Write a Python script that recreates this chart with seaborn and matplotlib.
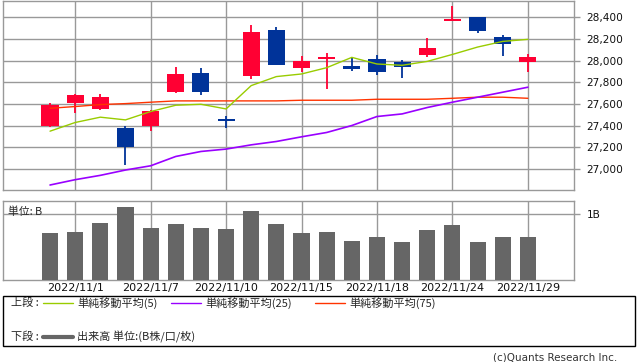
import matplotlib
matplotlib.use('Agg')
import matplotlib.pyplot as plt
import seaborn as sns
import numpy as np
import pandas as pd
from matplotlib.lines import Line2D
from matplotlib.patches import Rectangle

sns.set_style('white')
plt.rcParams['font.family'] = ['DejaVu Sans', 'Noto Sans CJK JP']

# daily candles
dates = ['2022/10/31', '2022/11/1', '2022/11/2', '2022/11/4', '2022/11/7',
         '2022/11/8', '2022/11/9', '2022/11/10', '2022/11/11', '2022/11/14',
         '2022/11/15', '2022/11/16', '2022/11/17', '2022/11/18', '2022/11/21',
         '2022/11/22', '2022/11/24', '2022/11/25', '2022/11/28', '2022/11/29']
open_ = [27401, 27613, 27554, 27380, 27401, 27711, 27885, 27462, 27858, 28280,
         27931, 28014, 27950, 28014, 27986, 28051, 28366, 28400, 28216, 27989]
close = [27591, 27683, 27665, 27199, 27536, 27876, 27711, 27447, 28262, 27959,
         27996, 28032, 27922, 27897, 27943, 28115, 28382, 28274, 28155, 28032]
high = [27610, 27690, 27692, 27398, 27545, 27940, 27931, 27493, 28326, 28308,
        28042, 28069, 28026, 28051, 28002, 28207, 28501, 28400, 28237, 28063]
low = [27389, 27521, 27545, 27033, 27355, 27701, 27683, 27374, 27830, 27959,
       27897, 27738, 27904, 27870, 27842, 28032, 28366, 28256, 28042, 27897]

# moving averages
sma5 = [27349, 27429, 27478, 27453, 27530, 27588, 27597, 27554, 27769, 27852,
        27876, 27934, 28029, 27968, 27956, 27992, 28056, 28124, 28176, 28195]
sma25 = [26853, 26902, 26942, 26991, 27030, 27116, 27162, 27184, 27223, 27254,
         27297, 27337, 27401, 27484, 27508, 27567, 27616, 27662, 27708, 27754]
sma75 = [27560, 27576, 27594, 27603, 27616, 27628, 27628, 27628, 27628, 27628,
         27634, 27634, 27634, 27643, 27643, 27643, 27652, 27662, 27662, 27652]

# volume (B)
volume = [0.72, 0.73, 0.87, 1.11, 0.79, 0.85, 0.79, 0.78, 1.05, 0.85,
          0.72, 0.73, 0.60, 0.66, 0.57, 0.76, 0.84, 0.57, 0.66, 0.66]

label_dates = ['2022/11/1', '2022/11/7', '2022/11/10', '2022/11/15',
               '2022/11/18', '2022/11/24', '2022/11/29']
price_ticks = [27000, 27200, 27400, 27600, 27800, 28000, 28200, 28400]

UP = '#ff0033'
DOWN = '#003399'
GRID = '#999999'
W, H = 638, 362

df = pd.DataFrame({'date': dates, 'open': open_, 'close': close,
                   'high': high, 'low': low, 'sma5': sma5, 'sma25': sma25,
                   'sma75': sma75, 'volume': volume})
df['i'] = np.arange(len(df))
xpos = [dates.index(d) for d in label_dates]

fig = plt.figure(figsize=(W / 100, H / 100), dpi=100)
ax1 = fig.add_axes([3 / W, 1 - 190 / H, 571 / W, 189.5 / H])
ax2 = fig.add_axes([3 / W, 1 - 280 / H, 571 / W, 79 / H])

# ---- upper panel: candles + moving averages
colors = [UP if c >= o else DOWN for o, c in zip(df['open'], df['close'])]
ax1.vlines(df['i'], df['low'], df['high'], colors=colors, lw=1.3, zorder=2)
body_lo = np.minimum(df['open'], df['close'])
body_h = np.maximum(np.abs(df['close'] - df['open']), 14)
ax1.bar(df['i'], body_h, bottom=body_lo, width=0.68, color=colors,
        linewidth=0, zorder=3)

sns.lineplot(data=df, x='i', y='sma75', color='#ff3300', lw=1.0, ax=ax1, zorder=4)
sns.lineplot(data=df, x='i', y='sma25', color='#9900ff', lw=1.2, ax=ax1, zorder=4)
sns.lineplot(data=df, x='i', y='sma5', color='#99cc00', lw=1.0, ax=ax1, zorder=4)

ax1.set_xlim(-1.87, 20.835)
ax1.set_ylim(26807, 28553)
ax1.set_xticks(xpos)
ax1.set_xticklabels([])
ax1.set_yticks(price_ticks)
ax1.set_yticklabels([f'{v:,}' for v in price_ticks])
ax1.yaxis.tick_right()
ax1.set_xlabel('')
ax1.set_ylabel('')
ax1.tick_params(axis='x', length=0)
ax1.tick_params(axis='y', length=4, width=1, color=GRID, pad=5,
                labelsize=7.6, labelcolor='#111111')
ax1.grid(True, color=GRID, lw=1)
ax1.set_axisbelow(True)
for s in ax1.spines.values():
    s.set_color(GRID)
    s.set_linewidth(1)

# ---- lower panel: volume
sns.barplot(data=df, x='date', y='volume', order=dates, color='#666666',
            saturation=1, width=0.64, linewidth=0, ax=ax2, zorder=3)
ax2.set_xlim(-1.87, 20.835)
ax2.set_ylim(0, 1.2)
ax2.set_xticks(xpos)
ax2.set_xticklabels(label_dates)
ax2.set_yticks([1.0])
ax2.set_yticklabels(['1B'])
ax2.yaxis.tick_right()
ax2.set_xlabel('')
ax2.set_ylabel('')
ax2.tick_params(axis='x', length=0, pad=2, labelsize=8, labelcolor='#111111')
ax2.tick_params(axis='y', length=4, width=1, color=GRID, pad=5,
                labelsize=7.6, labelcolor='#111111')
ax2.grid(True, color=GRID, lw=1)
ax2.set_axisbelow(True)
for s in ax2.spines.values():
    s.set_color(GRID)
    s.set_linewidth(1)
ax2.text(0.008, 0.93, '単位: B', transform=ax2.transAxes, fontsize=7.8,
         va='top', ha='left', family=['Noto Sans CJK JP', 'DejaVu Sans'])

# ---- legend box
fig.patches.append(Rectangle((3 / W, 1 - 346 / H), 632 / W, 50 / H,
                             transform=fig.transFigure, fill=False,
                             edgecolor='black', lw=1))
jp = ['Noto Sans CJK JP', 'DejaVu Sans']
y1 = 1 - 303 / H
y2 = 1 - 337 / H
fig.text(11 / W, y1, '上段 :', fontsize=8, va='center', family=jp)
fig.text(11 / W, y2, '下段 :', fontsize=8, va='center', family=jp)
items = [(43, '#99cc00', '単純移動平均(5)'),
         (171, '#9900ff', '単純移動平均(25)'),
         (315, '#ff3300', '単純移動平均(75)')]
for x0, c, lab in items:
    fig.lines.append(Line2D([x0 / W, (x0 + 30) / W], [y1, y1], color=c, lw=1,
                            transform=fig.transFigure))
    fig.text((x0 + 34) / W, y1, lab, fontsize=8, va='center', family=jp)
fig.lines.append(Line2D([43 / W, 73 / W], [y2, y2], color='#666666', lw=3,
                        transform=fig.transFigure))
fig.text(77 / W, y2, '出来高 単位:(B株/口/枚)', fontsize=8, va='center', family=jp)

fig.text(617 / W, 1 - 358 / H, '(c)Quants Research Inc.', fontsize=7.5,
         ha='right', va='center', color='#333333')

fig.savefig('out.png', dpi=100)
